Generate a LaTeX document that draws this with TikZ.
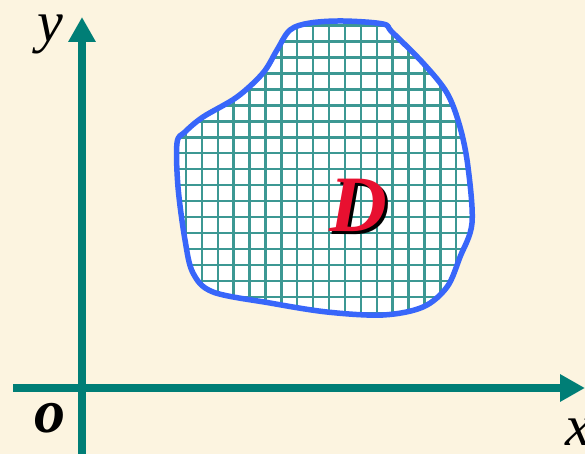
\documentclass[tikz,border=0pt]{standalone}
\usepackage{fontspec}
\setmainfont{Liberation Serif}
\usetikzlibrary{arrows.meta}
\definecolor{bgcream}{RGB}{252,244,224}
\definecolor{axisteal}{RGB}{0,126,118}
\definecolor{gridteal}{RGB}{60,152,147}
\definecolor{edgeblue}{RGB}{56,102,250}
\definecolor{dred}{RGB}{232,16,48}
\tikzset{
  axisline/.style={draw=axisteal, line width=8pt, -{Triangle[length=25pt,width=26pt]}},
  gridline/.style={draw=gridteal, line width=2.4pt},
  edge/.style={draw=edgeblue, line width=5.5pt, line join=round},
  lbl/.style={inner sep=0pt, anchor=base, font=\fontsize{58}{58}\selectfont\itshape},
}
\begin{document}
\begin{tikzpicture}[x=1pt,y=-1pt]
\useasboundingbox (0,0) rectangle (585,454);
\fill[bgcream] (0,0) rectangle (585,454);
% axes
\coordinate (ybot) at (82,454);
\coordinate (ytop) at (82,17);
\coordinate (xl) at (13,388);
\coordinate (xr) at (585,388);
\draw[axisline] (xl) -- (xr);
\draw[axisline] (ybot) -- (ytop);
% region
\def\regionpath{plot[smooth cycle, tension=0.55] coordinates {
 (290,30) (310,23) (343,21) (383,24) (392,32) (423,63) (447,93) (460,127)
 (468,167) (472,223) (460,257) (447,287) (423,307) (383,315) (327,312)
 (270,303) (213,292) (193,273) (185,240) (178,187) (177,143) (185,132)
 (203,117) (237,97) (263,73) (277,50)}}
\fill[white] \regionpath;
\begin{scope}
\clip \regionpath;
\foreach \i in {0,...,19} { \draw[gridline] (170+\i*15.9,10) -- (170+\i*15.9,330); }
\foreach \j in {0,...,19} { \draw[gridline] (160,25.7+\j*15.95) -- (490,25.7+\j*15.95); }
\end{scope}
\draw[edge] \regionpath;
% labels
\node[lbl] (ylab) at (50,42) {y};
\node[lbl] (xlab) at (578,445) {x};
\node[lbl, font=\fontsize{62}{62}\selectfont\bfseries\itshape] (olab) at (50,432) {o};
\node[inner sep=0pt, anchor=base, text=black, font=\fontsize{80}{80}\selectfont\bfseries\itshape] (dshadow) at (361,234) {D};
\node[inner sep=0pt, anchor=base, text=dred, font=\fontsize{80}{80}\selectfont\bfseries\itshape] (dlab) at (358,231) {D};
\end{tikzpicture}
\end{document}
